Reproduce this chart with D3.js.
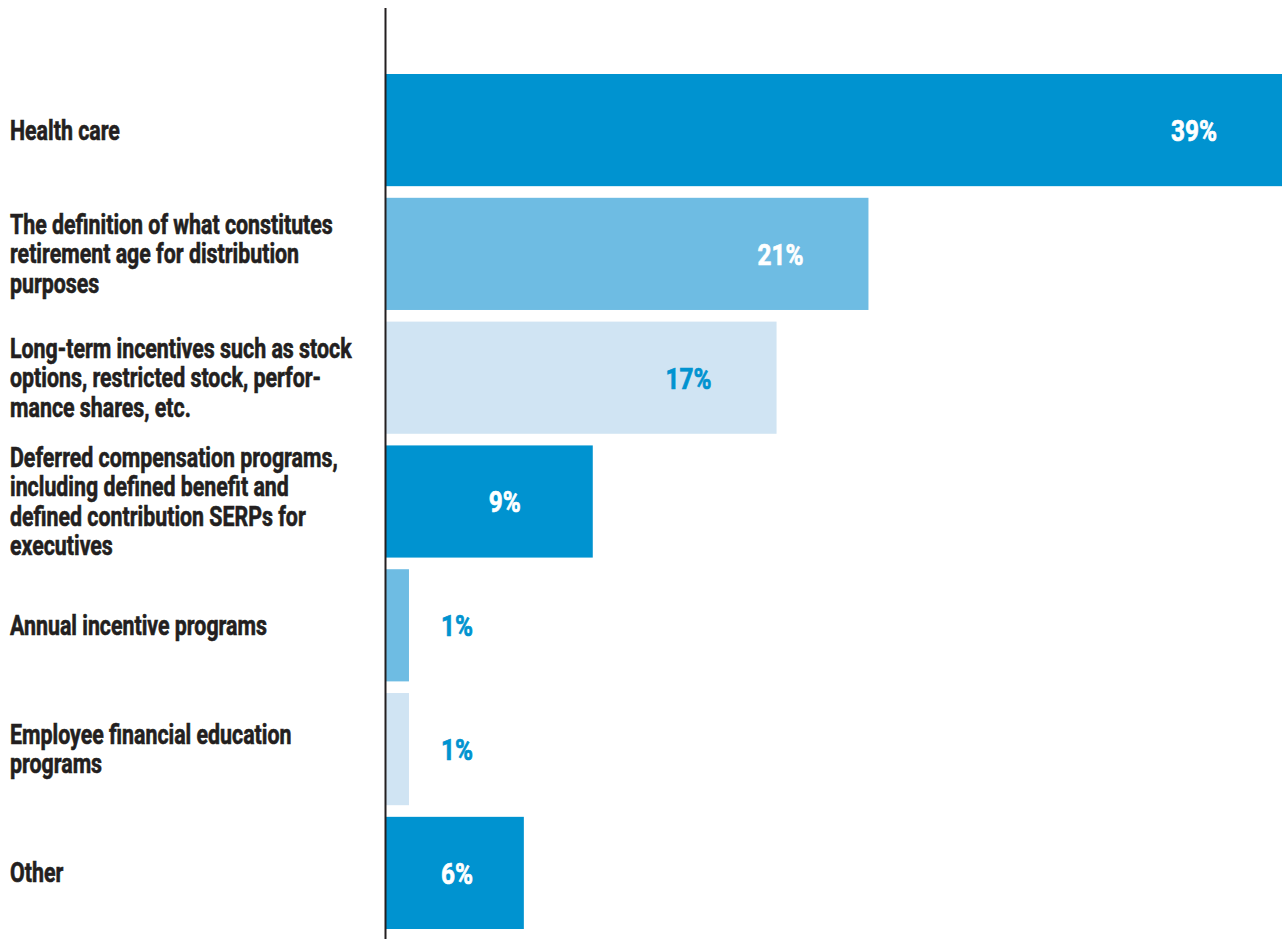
<!DOCTYPE html>
<html>
<head>
<meta charset="utf-8">
<script src="https://cdn.jsdelivr.net/npm/d3@7"></script>
<style>
  html, body { margin: 0; padding: 0; background: #fff; }
  svg { display: block; }
  .cat { font-family: "Roboto", "Liberation Sans", sans-serif; font-weight: 700; fill: #231f20; stroke: #231f20; stroke-width: 0.6; }
  .val { font-family: "Roboto", "Liberation Sans", sans-serif; font-weight: 700; stroke-width: 0.7; }
</style>
</head>
<body>
<svg id="chart" width="1282" height="939"></svg>
<script>
// Survey categories, one entry per bar (lines as they break in the label)
const categories = [
  ["Health care"],
  ["The definition of what constitutes", "retirement age for distribution", "purposes"],
  ["Long-term incentives such as stock", "options, restricted stock, perfor-", "mance shares, etc."],
  ["Deferred compensation programs,", "including defined benefit and", "defined contribution SERPs for", "executives"],
  ["Annual incentive programs"],
  ["Employee financial education", "programs"],
  ["Other"]
];
// Share of respondents, percent
const values = [39, 21, 17, 9, 1, 1, 6];
// Bar fill cycles through three blues
const shades = ["#0093d0", "#6ebce3", "#d0e4f3"];

const width = 1282, height = 939;
const axisX = 386;
const svg = d3.select("#chart");

const x = d3.scaleLinear().domain([0, 39]).range([axisX, 1282]);
const y = d3.scaleBand().domain(d3.range(values.length)).range([74, 929]).paddingInner(0.094).paddingOuter(0);

// Bars
svg.selectAll("rect.bar")
  .data(values)
  .join("rect")
  .attr("class", "bar")
  .attr("x", axisX)
  .attr("y", (d, i) => y(i))
  .attr("width", d => x(d) - axisX)
  .attr("height", y.bandwidth())
  .attr("fill", (d, i) => shades[i % 3]);

// Vertical baseline
svg.append("line")
  .attr("x1", axisX - 0.5).attr("x2", axisX - 0.5)
  .attr("y1", 8).attr("y2", height)
  .attr("stroke", "#231f20").attr("stroke-width", 2);

// Category labels: a compressed heavy face, faked by squeezing horizontally
const lineH = 29.5, capHalf = 9.5;
const catGroups = [];
categories.forEach((lines, i) => {
  const cy = y(i) + y.bandwidth() / 2;
  const firstBase = cy - (lines.length - 1) * lineH / 2 + capHalf;
  const t = svg.append("text").attr("class", "cat").attr("font-size", 27);
  lines.forEach((ln, k) => {
    t.append("tspan").attr("x", 0).attr("y", firstBase + k * lineH).text(ln);
  });
  catGroups.push(t);
});
// widest line sets the squeeze ratio for every label
const probe = catGroups[1].select("tspan").node().getComputedTextLength();
const squeeze = 323 / probe;
catGroups.forEach(t => t.attr("transform", `translate(10,0) scale(${squeeze},1)`));

// Value labels: near the bar end, pushed right of short bars
const minLabelX = 457;
const labelX = d => Math.max(x(d) - 88, minLabelX);
const valColor = (d, i) => {
  const inside = labelX(d) + 25 < x(d);
  return inside && i % 3 !== 2 ? "#ffffff" : "#0093d0";
};
const vals = svg.selectAll("text.val")
  .data(values)
  .join("text")
  .attr("class", "val")
  .attr("font-size", 30)
  .attr("text-anchor", "middle")
  .attr("x", 0)
  .attr("y", (d, i) => y(i) + y.bandwidth() / 2 + 11)
  .attr("fill", valColor)
  .attr("stroke", valColor)
  .text(d => d + "%");
const vProbe = vals.filter((d, i) => i === 0).node().getComputedTextLength();
const vSqueeze = 46 / vProbe;
vals.attr("transform", d => `translate(${labelX(d)},0) scale(${vSqueeze},1)`);
</script>
</body>
</html>
